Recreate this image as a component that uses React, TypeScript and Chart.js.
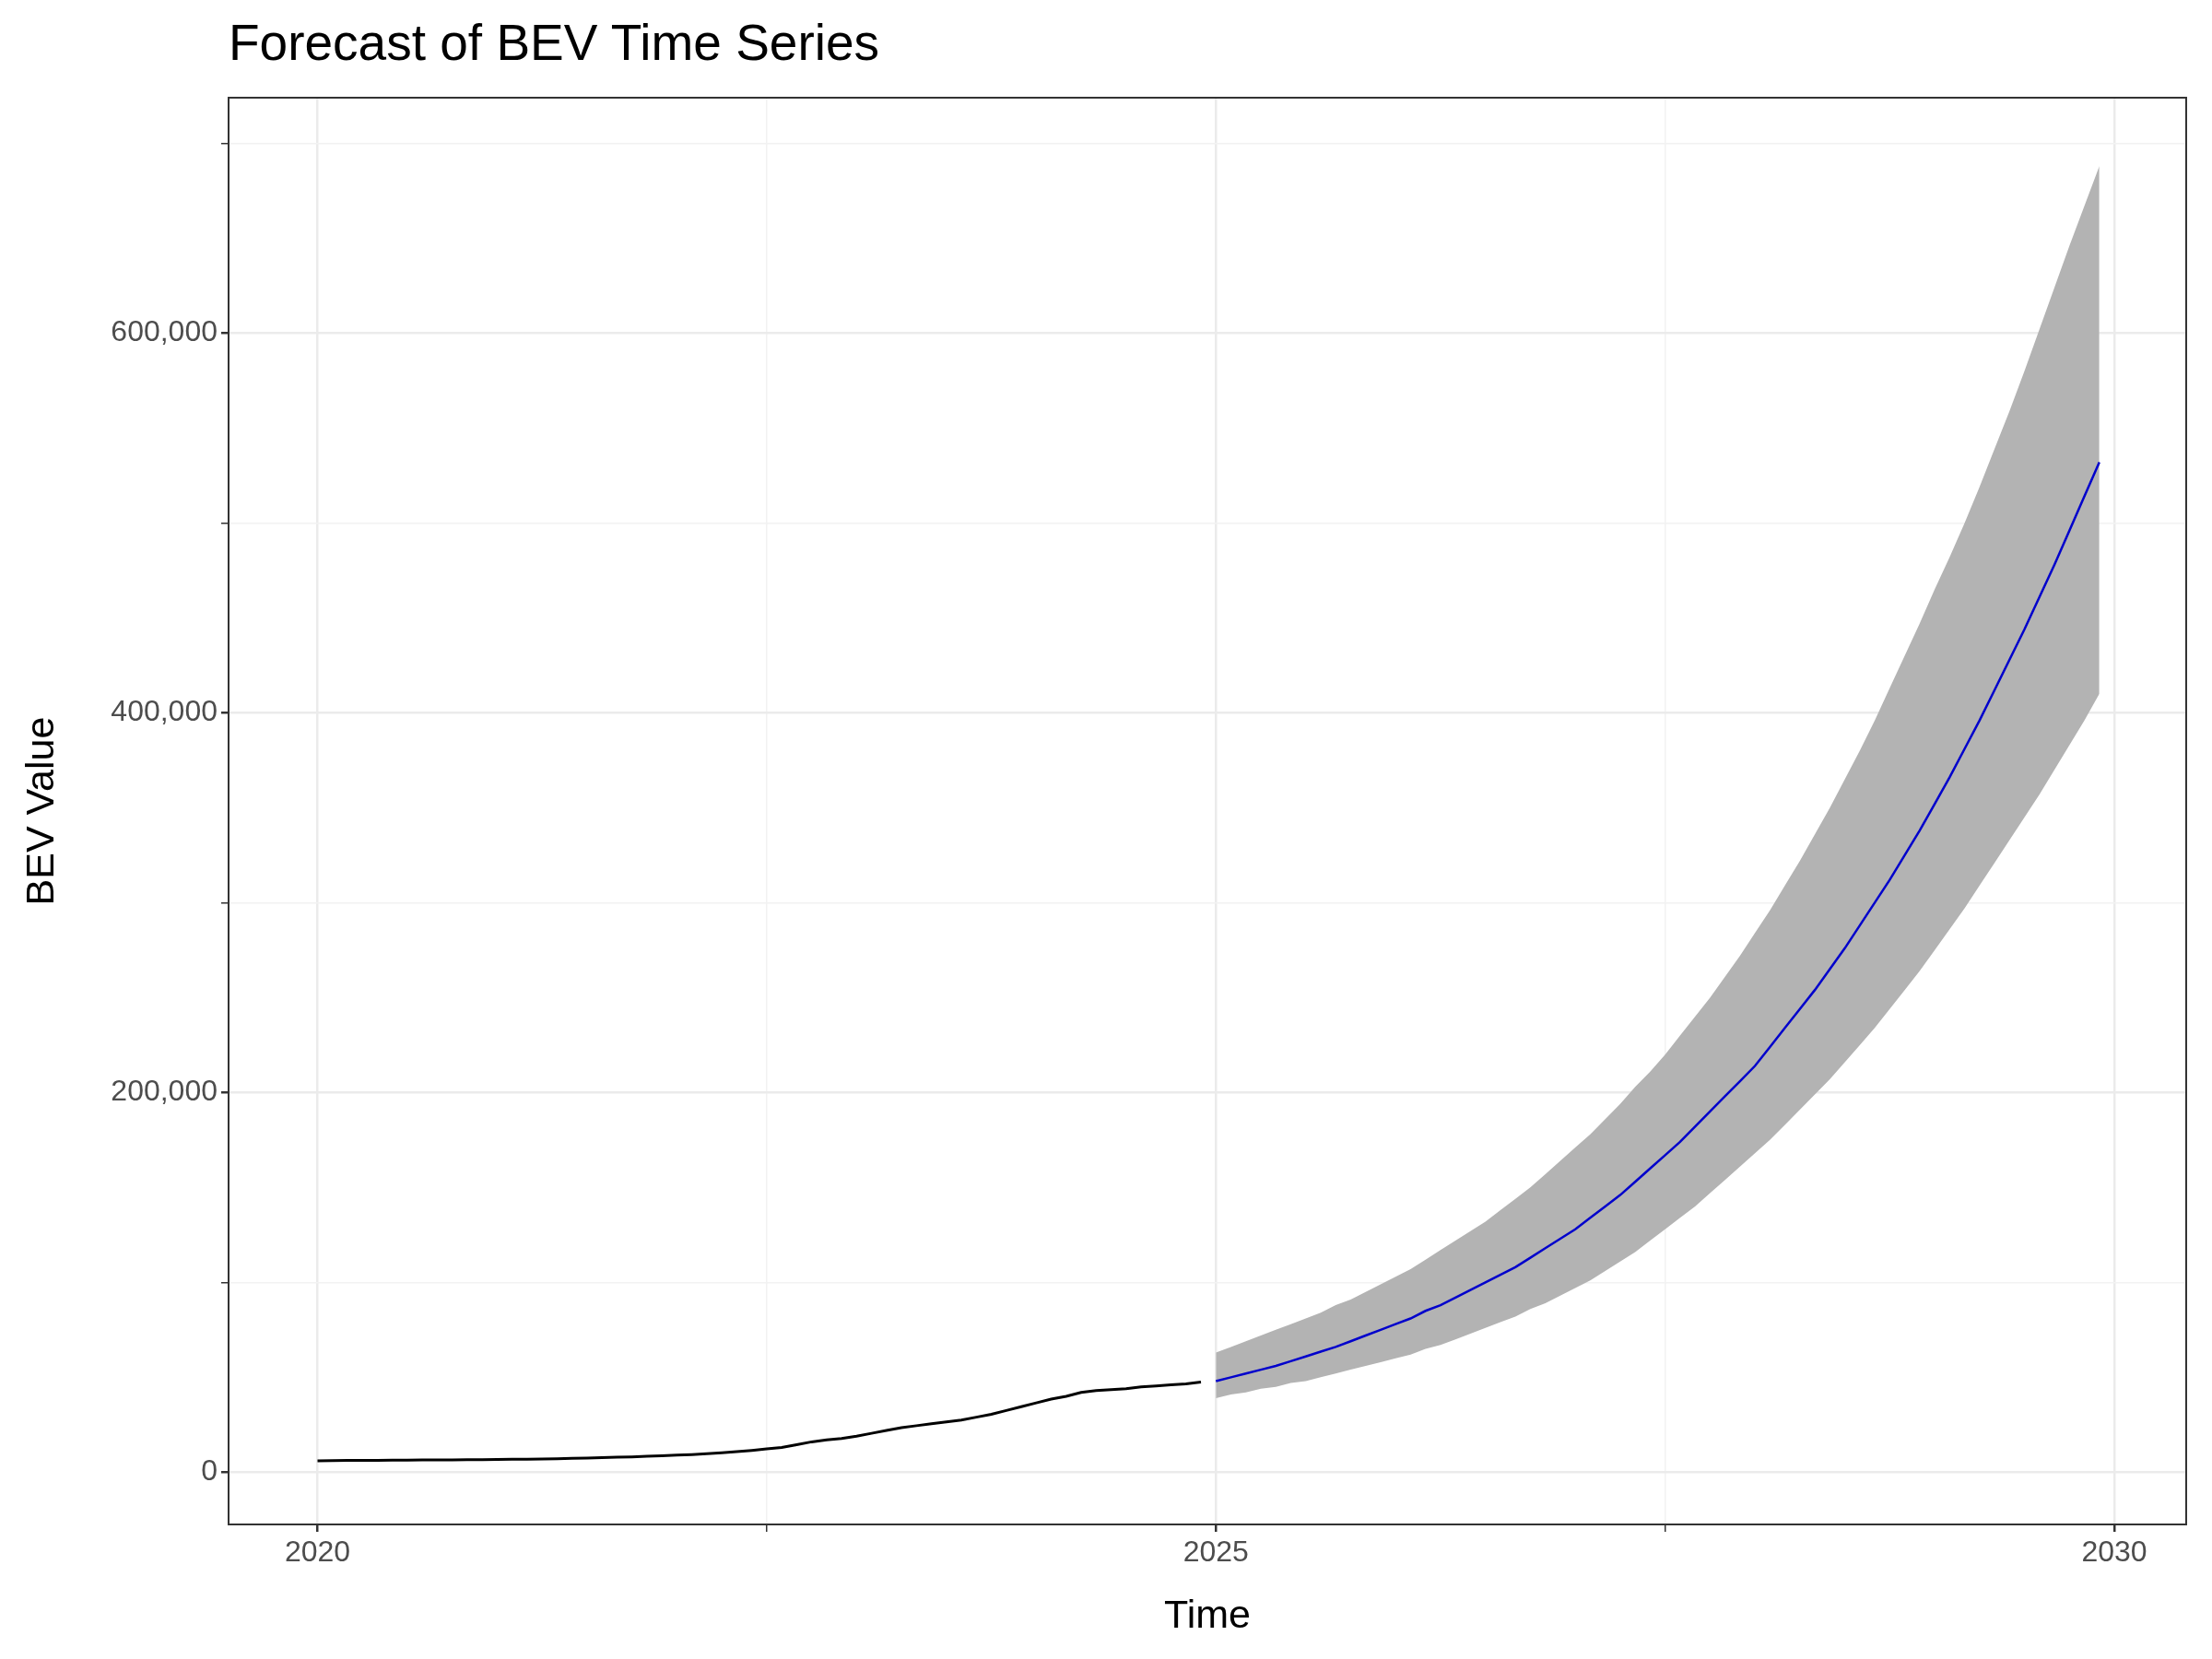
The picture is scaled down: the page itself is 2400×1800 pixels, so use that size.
import { useEffect, useRef } from "react";
import { Chart, registerables } from "chart.js";

Chart.register(...registerables);

// historical monthly values (thousands), Jan 2020 – Dec 2024
const histValues = [
  6.0, 6.1, 6.2, 6.3, 6.3, 6.4, 6.4, 6.5, 6.5, 6.5, 6.6, 6.6,
  6.7, 6.8, 6.9, 7.0, 7.1, 7.3, 7.5, 7.7, 7.9, 8.1, 8.4, 8.7,
  9.0, 9.3, 9.7, 10.2, 10.8, 11.5, 12.3, 13.0, 14.5, 16, 17, 17.8,
  19, 20.5, 22, 23.5, 24.5, 25.5, 26.5, 27.5, 29, 30.5, 32.5, 34.5,
  36.5, 38.5, 40, 42, 43, 43.5, 44, 45, 45.5, 46, 46.5, 47.5,
];
// forecast mean (thousands), Jan 2025 – Dec 2029
const fcMean = [
  48, 50, 52, 54, 56, 58.5, 61, 63.5, 66, 69, 72, 75,
  78, 81, 85, 88, 92, 96, 100, 104, 108, 113, 118, 123,
  128, 134, 140, 146, 153, 160, 167, 174, 182, 190, 198, 206,
  214, 224, 234, 244, 254, 265, 276, 288, 300, 312, 325, 338,
  352, 366, 381, 396, 412, 428, 444, 461, 478, 496, 514, 532,
];
const fcUpper = [
  63, 66, 69, 72, 75, 78, 81, 84, 88, 91, 95, 99,
  103, 107, 112, 117, 122, 127, 132, 138, 144, 150, 157, 164,
  171, 178, 186, 194, 203, 211, 220, 230, 240, 250, 261, 272,
  284, 296, 309, 322, 336, 350, 365, 380, 396, 413, 430, 447,
  465, 482, 500, 519, 539, 559, 580, 602, 624, 646, 667, 688,
];
const fcLower = [
  39, 41, 42, 44, 45, 47, 48, 50, 52, 54, 56, 58,
  60, 62, 65, 67, 70, 73, 76, 79, 82, 86, 89, 93,
  97, 101, 106, 111, 116, 122, 128, 134, 140, 147, 154, 161,
  168, 175, 183, 191, 199, 207, 216, 225, 234, 244, 254, 264,
  275, 286, 297, 309, 321, 333, 345, 357, 370, 383, 396, 410,
];
const xTickLabels = [2020, 2025, 2030];
const yTickLabels = [0, 200000, 400000, 600000];

const toPts = (vals: number[], startYear: number) =>
  vals.map((v, i) => ({ x: startYear + i / 12, y: v * 1000 }));

const FONT = "Arial, 'Liberation Sans', sans-serif";

const borderPlugin = {
  id: "panelBorder",
  afterDraw(chart: any) {
    const { ctx, chartArea: a } = chart;
    ctx.save();
    ctx.strokeStyle = "#333333";
    ctx.lineWidth = 2;
    ctx.strokeRect(a.left, a.top, a.right - a.left, a.bottom - a.top);
    ctx.restore();
  },
};

export default function App() {
  const canvasRef = useRef<HTMLCanvasElement>(null);

  useEffect(() => {
    document.body.style.margin = "0";
    if (!canvasRef.current) return;
    const chart = new Chart(canvasRef.current, {
      type: "line",
      data: {
        datasets: [
          { label: "upper", data: toPts(fcUpper, 2025), borderWidth: 0, pointRadius: 0, fill: false, order: 3 },
          {
            label: "lower",
            data: toPts(fcLower, 2025),
            borderWidth: 0,
            pointRadius: 0,
            backgroundColor: "#b3b3b3",
            fill: "-1",
            order: 3,
          },
          {
            label: "history",
            data: toPts(histValues, 2020),
            borderColor: "#000000",
            borderWidth: 3,
            pointRadius: 0,
            fill: false,
            order: 1,
          },
          {
            label: "forecast",
            data: toPts(fcMean, 2025),
            borderColor: "#0000cc",
            borderWidth: 2.5,
            pointRadius: 0,
            fill: false,
            order: 1,
          },
        ],
      },
      options: {
        responsive: false,
        animation: false,
        layout: { padding: { top: 106, right: 28, left: 20, bottom: 20 } },
        plugins: { legend: { display: false }, tooltip: { enabled: false } },
        scales: {
          x: {
            type: "linear",
            min: 2019.505,
            max: 2030.4,
            afterBuildTicks: (s: any) => {
              s.ticks = [2020, 2022.5, 2025, 2027.5, 2030].map(v => ({ value: v }));
            },
            afterFit: (s: any) => { s.height = 126; },
            border: { display: false },
            grid: {
              color: (c: any) => (xTickLabels.includes(c.tick?.value) ? "#ebebeb" : "#f2f2f2"),
              lineWidth: (c: any) => (xTickLabels.includes(c.tick?.value) ? 2.5 : 1.5),
              tickLength: 8,
              tickColor: "#333333",
            },
            ticks: {
              color: "#4d4d4d",
              font: { family: FONT, size: 32 },
              padding: 4,
              maxRotation: 0,
              autoSkip: false,
              callback: (v: any) => (xTickLabels.includes(v) ? String(v) : ""),
            },
            title: { display: true, text: "Time", color: "#000", font: { family: FONT, size: 43 }, padding: { top: 0, bottom: 0 } },
          },
          y: {
            min: -27500,
            max: 724000,
            afterBuildTicks: (s: any) => {
              s.ticks = [0, 100000, 200000, 300000, 400000, 500000, 600000, 700000].map(v => ({ value: v }));
            },
            afterFit: (s: any) => { s.width = 228; },
            border: { display: false },
            grid: {
              color: (c: any) => (yTickLabels.includes(c.tick?.value) ? "#ebebeb" : "#f2f2f2"),
              lineWidth: (c: any) => (yTickLabels.includes(c.tick?.value) ? 2.5 : 1.5),
              tickLength: 8,
              tickColor: "#333333",
            },
            ticks: {
              color: "#4d4d4d",
              font: { family: FONT, size: 32 },
              padding: 4,
              autoSkip: false,
              callback: (v: any) => (yTickLabels.includes(v) ? Number(v).toLocaleString("en-US") : ""),
            },
            title: { display: true, text: "BEV Value", color: "#000", font: { family: FONT, size: 43 }, padding: { top: 0, bottom: 0 } },
          },
        },
      },
      plugins: [borderPlugin],
    });
    return () => chart.destroy();
  }, []);

  return (
    <div style={{ position: "relative", width: 2400, height: 1800, background: "#fff" }}>
      <div style={{ position: "absolute", left: 248, top: 14, fontFamily: FONT, fontSize: 55, color: "#000" }}>
        Forecast of BEV Time Series
      </div>
      <canvas ref={canvasRef} width={2400} height={1800} style={{ width: 2400, height: 1800 }} />
    </div>
  );
}
